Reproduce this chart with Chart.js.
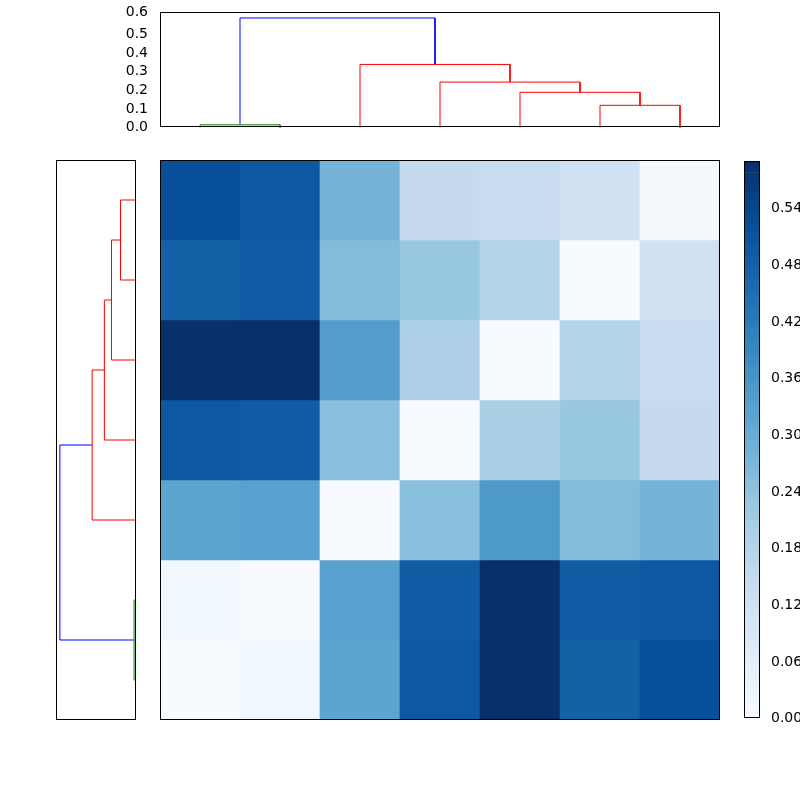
<!DOCTYPE html>
<html>
<head>
<meta charset="utf-8">
<script src="https://cdn.jsdelivr.net/npm/chart.js@4.4.3/dist/chart.umd.min.js"></script>
<style>
  body { margin: 0; background: #fff; }
  canvas { position: absolute; }
</style>
</head>
<body>
<canvas id="top" style="left:100px;top:0px;width:630px;height:140px"></canvas>
<canvas id="left" style="left:56px;top:160px;width:80px;height:560px"></canvas>
<canvas id="heat" style="left:160px;top:160px;width:560px;height:560px"></canvas>
<canvas id="cbar" style="left:744px;top:150px;width:56px;height:580px"></canvas>
<script>
// leaf positions 5,15,...,65 (A..G); links: [x1, x2, h1, h2, height, color]
const links = [
  [5, 15, 0, 0, 0.015, 'green'],
  [55, 65, 0, 0, 0.12, 'red'],
  [45, 60, 0, 0.12, 0.19, 'red'],
  [35, 52.5, 0, 0.19, 0.245, 'red'],
  [25, 43.75, 0, 0.245, 0.34, 'red'],
  [10, 34.375, 0.015, 0.34, 0.59, 'blue']
];
// heatmap rows, top to bottom
const rowLabels = ['G', 'F', 'E', 'D', 'C', 'B', 'A'];
const cells = [
  [0.52, 0.50, 0.28, 0.15, 0.14, 0.12, 0.01],
  [0.48, 0.49, 0.26, 0.23, 0.18, 0.00, 0.12],
  [0.59, 0.59, 0.34, 0.19, 0.00, 0.18, 0.14],
  [0.50, 0.49, 0.25, 0.00, 0.20, 0.23, 0.15],
  [0.32, 0.33, 0.00, 0.25, 0.35, 0.26, 0.28],
  [0.02, 0.00, 0.33, 0.49, 0.59, 0.49, 0.50],
  [0.00, 0.02, 0.32, 0.50, 0.59, 0.48, 0.52]
];
const colLabels = ['A', 'B', 'C', 'D', 'E', 'F', 'G'];
const vmax = 0.59;
const cbarTicks = [0, 0.06, 0.12, 0.18, 0.24, 0.30, 0.36, 0.42, 0.48, 0.54];

const blues = ['#f7fbff', '#deebf7', '#c6dbef', '#9ecae1', '#6baed6', '#4292c6', '#2171b5', '#08519c', '#08306b'];
function hex(h) { return [1, 3, 5].map(i => parseInt(h.substr(i, 2), 16)); }
function cmap(v) {
  const t = Math.max(0, Math.min(1, v / vmax)) * (blues.length - 1);
  const i = Math.min(blues.length - 2, Math.floor(t));
  const f = t - i;
  const a = hex(blues[i]), b = hex(blues[i + 1]);
  return 'rgb(' + a.map((c, k) => Math.round(c + (b[k] - c) * f)).join(',') + ')';
}

Chart.defaults.font.family = 'DejaVu Sans';
Chart.defaults.font.size = 14;
Chart.defaults.color = '#000';
Chart.defaults.animation = false;
Chart.defaults.plugins.legend.display = false;
Chart.defaults.plugins.tooltip.enabled = false;

const box = {
  id: 'box',
  afterDraw(chart) {
    const a = chart.chartArea, ctx = chart.ctx;
    ctx.save();
    ctx.strokeStyle = '#000';
    ctx.lineWidth = 1;
    ctx.strokeRect(Math.round(a.left) + 0.5, Math.round(a.top) + 0.5, Math.round(a.right - a.left) - 1, Math.round(a.bottom - a.top) - 1);
    ctx.restore();
  }
};

function linkSets(vertical) {
  return links.map(l => {
    const pts = [[l[0], l[2]], [l[0], l[4]], [l[1], l[4]], [l[1], l[3]]];
    return {
      data: pts.map(p => vertical ? { x: p[0], y: p[1] } : { x: p[1], y: p[0] }),
      showLine: true, borderColor: l[5], borderWidth: 1, pointRadius: 0, clip: false
    };
  });
}

new Chart(document.getElementById('top'), {
  type: 'scatter',
  data: { datasets: linkSets(true) },
  options: {
    responsive: false, layout: { padding: { top: 0, bottom: 5, right: 10 } },
    scales: {
      x: { display: false, min: 0, max: 70 },
      y: {
        min: 0, max: 0.62, grid: { display: false }, border: { display: false },
        ticks: { stepSize: 0.1, callback: v => (Math.round(v * 10) / 10).toFixed(1), padding: 4 },
        afterFit: s => { s.width = 60; }
      }
    }
  },
  plugins: [box]
});

new Chart(document.getElementById('left'), {
  type: 'scatter',
  data: { datasets: linkSets(false) },
  options: {
    responsive: false, layout: { padding: 0 },
    scales: {
      x: { display: false, min: 0, max: 0.62, reverse: true },
      y: { display: false, min: 0, max: 70 }
    }
  },
  plugins: [box]
});

new Chart(document.getElementById('heat'), {
  type: 'bar',
  data: {
    labels: colLabels,
    datasets: cells.map((row, r) => ({
      label: rowLabels[r],
      data: row.map(() => [6 - r, 7 - r]),
      backgroundColor: row.map(cmap),
      grouped: false, barPercentage: 1, categoryPercentage: 1, borderWidth: 0
    }))
  },
  options: {
    responsive: false, layout: { padding: 0 },
    scales: { x: { display: false }, y: { display: false, min: 0, max: 7 } }
  },
  plugins: [box]
});

const steps = 100;
const cbarSegs = Array.from({ length: steps }, (_, i) => [i * vmax / steps, (i + 1) * vmax / steps]);
new Chart(document.getElementById('cbar'), {
  type: 'bar',
  data: {
    labels: ['c'],
    datasets: cbarSegs.map(s => ({
      data: [s], backgroundColor: cmap((s[0] + s[1]) / 2),
      grouped: false, barPercentage: 1, categoryPercentage: 1, borderWidth: 0
    }))
  },
  options: {
    responsive: false, layout: { padding: { top: 10, bottom: 10, left: 0, right: 0 } },
    scales: {
      x: { display: false },
      y: {
        position: 'right', min: 0, max: vmax, grid: { display: false }, border: { display: false },
        afterBuildTicks: s => { s.ticks = cbarTicks.map(v => ({ value: v })); },
        ticks: { callback: v => v.toFixed(2), padding: 3 },
        afterFit: s => { s.width = 40; }
      }
    }
  },
  plugins: [box]
});
</script>
</body>
</html>
